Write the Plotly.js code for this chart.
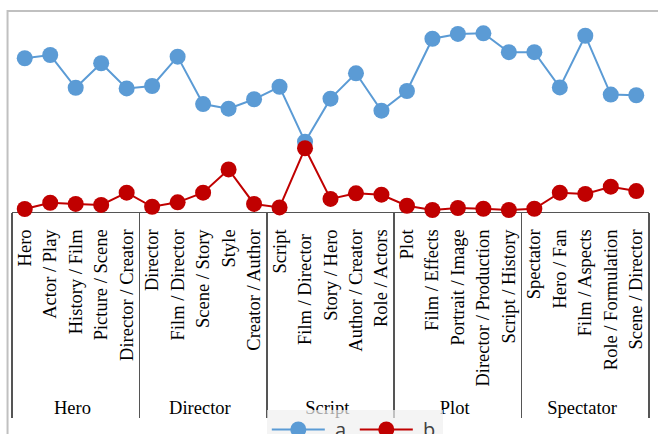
<!DOCTYPE html>
<html>
<head>
<meta charset="utf-8">
<script src="https://cdn.plot.ly/plotly-3.0.1.min.js"></script>
<style>html,body{margin:0;padding:0;background:#fff;}#chart{width:658px;height:434px;}</style>
</head>
<body>
<div id="chart"></div>
<script>
var groups = ["Hero","Hero","Hero","Hero","Hero",
  "Director","Director","Director","Director","Director",
  "Script","Script","Script","Script","Script",
  "Plot","Plot","Plot","Plot","Plot",
  "Spectator","Spectator","Spectator","Spectator","Spectator"];
var categories = ["Hero","Actor / Play","History / Film","Picture / Scene","Director / Creator",
  "Director","Film / Director","Scene / Story","Style","Creator / Author",
  "Script","Film / Director ","Story / Hero","Author / Creator","Role / Actors",
  "Plot","Film / Effects","Portrait / Image","Director / Production","Script / History",
  "Spectator","Hero / Fan","Film / Aspects","Role / Formulation","Scene / Director"];
var seriesNames = ["\u00a0a", "\u00a0b"];
var seriesA = [76.5,78.1,61.8,74.0,61.5, 62.7,77.3,53.7,51.4,56.1, 62.3,35.0,56.4,69.0,50.4, 60.2,86.2,88.6,88.9,79.5, 79.5,62.0,87.7,58.4,58.1];
var seriesB = [1.5,4.6,4.0,3.5,9.6, 2.6,4.8,9.6,21.2,4.0, 2.3,31.7,6.5,9.3,8.6, 3.1,1.0,2.0,1.6,1.0, 1.6,9.6,9.0,12.6,10.4];

var traces = [
  {x:[groups,categories], y:seriesA, name:seriesNames[0], type:"scatter", mode:"lines+markers",
   line:{color:"#5b9bd5", width:2}, marker:{color:"#5b9bd5", size:16}, cliponaxis:false},
  {x:[groups,categories], y:seriesB, name:seriesNames[1], type:"scatter", mode:"lines+markers",
   line:{color:"#c00000", width:2}, marker:{color:"#c00000", size:16}, cliponaxis:false}
];

var layout = {
  width:658, height:434,
  margin:{l:12, r:9, t:11, b:222, autoexpand:false},
  paper_bgcolor:"#fff", plot_bgcolor:"rgba(0,0,0,0)",
  showlegend:true,
  xaxis:{type:"multicategory", range:[-0.5,24.5], tickangle:-90, showgrid:false,
    showline:true, linecolor:"#555", linewidth:1, ticks:"", layer:"below traces",
    ticklabelstandoff:9,
    showdividers:true, dividercolor:"#555", dividerwidth:1.5,
    tickfont:{family:"Liberation Serif", size:18.5, color:"#000"}},
  yaxis:{visible:false, range:[0,100], fixedrange:true},
  legend:{orientation:"h", x:0.4, xanchor:"left", y:-0.985, yanchor:"top",
    bgcolor:"rgba(240,240,240,0.7)", itemwidth:53, entrywidth:20,
    font:{family:"Open Sans", size:20, color:"#404040"}},
  shapes:[{type:"rect", xref:"paper", yref:"paper", x0:-0.007, x1:1.2, y0:-3, y1:1,
    line:{color:"#c0c0c0", width:2}, fillcolor:"rgba(0,0,0,0)", layer:"below"}]
};
Plotly.newPlot("chart", traces, layout, {displayModeBar:false, staticPlot:true});
</script>
</body>
</html>
